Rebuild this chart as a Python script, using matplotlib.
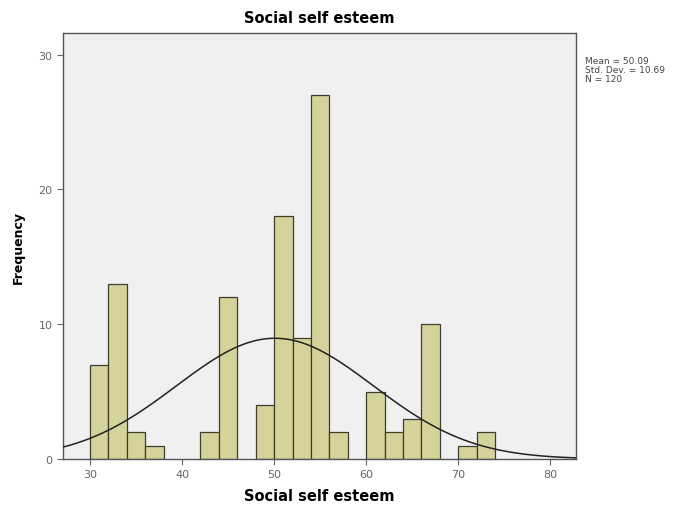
import numpy as np
import matplotlib
matplotlib.use('Agg')
import matplotlib.pyplot as plt

# histogram bins (left edges, width 2) and counts
bin_left = [30, 32, 34, 36, 42, 44, 48, 50, 52, 54, 56, 60, 62, 64, 66, 70, 72]
counts = [7, 13, 2, 1, 2, 12, 4, 18, 9, 27, 2, 5, 2, 3, 10, 1, 2]
bin_width = 2

mean_val = 50.09
std_val = 10.69
n_val = 120

x_ticks = [30, 40, 50, 60, 70, 80]
y_ticks = [0, 10, 20, 30]

fig = plt.figure(figsize=(6.91, 5.06), dpi=100)
ax = fig.add_axes([0.0912, 0.0909, 0.7424, 0.8419])
ax.set_facecolor('#f0f0f0')

ax.bar(bin_left, counts, width=bin_width, align='edge',
       color='#d6d39a', edgecolor='#3d3d2c', linewidth=0.9, zorder=2)

# normal curve scaled to counts
xs = np.linspace(27, 83, 400)
pdf = np.exp(-0.5 * ((xs - mean_val) / std_val) ** 2) / (std_val * np.sqrt(2 * np.pi))
ax.plot(xs, pdf * n_val * bin_width, color='#222222', linewidth=1.1, zorder=3)

ax.set_xlim(27.07, 82.8)
ax.set_ylim(0, 31.6)
ax.set_xticks(x_ticks)
ax.set_yticks(y_ticks)
ax.tick_params(direction='out', length=4, width=0.8, colors='#666666',
               labelsize=8, labelcolor='#666666')
for s in ax.spines.values():
    s.set_color('#555555')
    s.set_linewidth(1.0)

ax.set_title('Social self esteem', fontsize=10.5, fontweight='bold', pad=8)
ax.set_xlabel('Social self esteem', fontsize=10.5, fontweight='bold', labelpad=6)
ax.set_ylabel('Frequency', fontsize=9, fontweight='bold', labelpad=10)

fig.text(0.846, 0.887,
         'Mean = %.2f\nStd. Dev. = %.2f\nN = %d' % (mean_val, std_val, n_val),
         fontsize=6.5, color='#444444', va='top', ha='left', linespacing=1.0)

fig.savefig('out.png', dpi=100)
